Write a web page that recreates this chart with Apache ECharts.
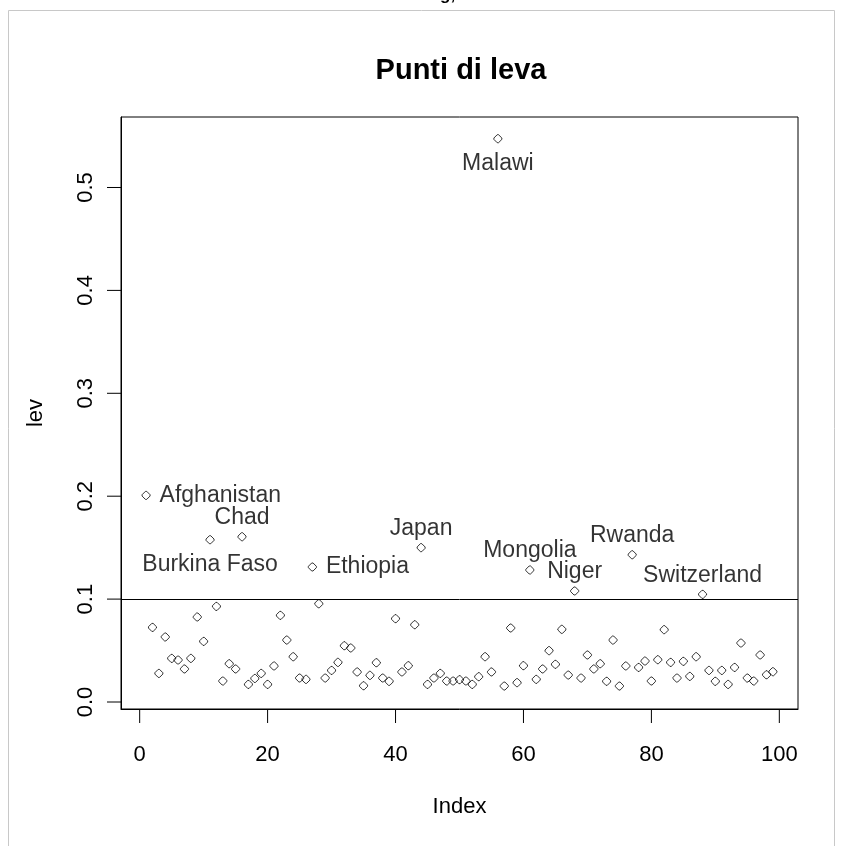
<!DOCTYPE html>
<html>
<head>
<meta charset="utf-8">
<script src="https://cdn.jsdelivr.net/npm/echarts@6/dist/echarts.min.js"></script>
<style>
  html, body { margin: 0; padding: 0; background: #fff; }
  #chart { width: 842px; height: 846px; }
</style>
</head>
<body>
<div id="chart"></div>
<script>
// Leverage (hat values) of each observation, in index order 1..99
const lev = [
  0.2008, 0.0725, 0.0278, 0.0632, 0.0424, 0.0408, 0.0321, 0.0424, 0.0826, 0.0589,
  0.1577, 0.0929, 0.0204, 0.0372, 0.0321, 0.1606, 0.0171, 0.0229, 0.0278, 0.0171,
  0.0350, 0.0842, 0.0602, 0.0440, 0.0233, 0.0220, 0.1312, 0.0955, 0.0233, 0.0307,
  0.0385, 0.0547, 0.0525, 0.0292, 0.0158, 0.0259, 0.0382, 0.0233, 0.0201, 0.0810,
  0.0292, 0.0353, 0.0751, 0.1500, 0.0171, 0.0233, 0.0278, 0.0204, 0.0204, 0.0217,
  0.0204, 0.0171, 0.0246, 0.0440, 0.0292, 0.5474, 0.0155, 0.0719, 0.0188, 0.0353,
  0.1283, 0.0220, 0.0321, 0.0499, 0.0366, 0.0706, 0.0262, 0.1079, 0.0233, 0.0457,
  0.0321, 0.0372, 0.0201, 0.0602, 0.0155, 0.0350, 0.1431, 0.0336, 0.0398, 0.0204,
  0.0411, 0.0703, 0.0385, 0.0233, 0.0395, 0.0249, 0.0440, 0.1046, 0.0307, 0.0201,
  0.0307, 0.0171, 0.0336, 0.0573, 0.0233, 0.0204, 0.0457, 0.0265, 0.0294
];

// Observations above the cutoff, labelled by country
const flaggedIndex = [1, 11, 16, 27, 44, 56, 61, 68, 77, 88];
const flaggedNames = ['Afghanistan', 'Burkina Faso', 'Chad', 'Ethiopia', 'Japan',
                      'Malawi', 'Mongolia', 'Niger', 'Rwanda', 'Switzerland'];

const cutoff = 0.1;
const xTicks = [0, 20, 40, 60, 80, 100];
const yTicks = [0, 0.1, 0.2, 0.3, 0.4, 0.5];

// where each country name sits relative to its point
const side = {
  'Afghanistan': 'right', 'Ethiopia': 'right',
  'Burkina Faso': 'bottom', 'Malawi': 'bottom'
};

const FONT = '"Liberation Sans", Arial, sans-serif';
const TICK_LEN = 14;

// axis ranges padded 4% beyond the data, as in base graphics
const xMin = -2.92, xMax = 102.92;
const yMin = -0.0068, yMax = 0.5685;

const points = lev.map((v, i) => {
  const item = { value: [i + 1, v] };
  const k = flaggedIndex.indexOf(i + 1);
  if (k >= 0) {
    const pos = side[flaggedNames[k]] || 'top';
    item.label = {
      show: true,
      formatter: flaggedNames[k],
      position: pos,
      distance: pos === 'right' ? 9 : (pos === 'bottom' ? 9 : 3)
    };
  }
  return item;
});

// outward tick marks, placed through the cartesian scales
function tickSeries(values, horizontal) {
  return {
    type: 'custom',
    silent: true,
    clip: false,
    z: 5,
    data: values.map(v => horizontal ? [v, yMin] : [xMin, v]),
    renderItem: (params, api) => {
      const p = api.coord([api.value(0), api.value(1)]);
      const shape = horizontal
        ? { x1: p[0], y1: p[1], x2: p[0], y2: p[1] + TICK_LEN }
        : { x1: p[0] - TICK_LEN, y1: p[1], x2: p[0], y2: p[1] };
      return {
        type: 'line',
        shape: shape,
        style: { stroke: '#000', lineWidth: 1 }
      };
    }
  };
}

const chart = echarts.init(document.getElementById('chart'), null, { renderer: 'canvas' });

chart.setOption({
  animation: false,
  backgroundColor: '#fff',
  title: {
    text: 'Punti di leva',
    left: 456,
    top: 51,
    textAlign: 'center',
    textStyle: { fontFamily: FONT, fontSize: 29, fontWeight: 'bold', color: '#000' }
  },
  graphic: [
    {
      type: 'rect',
      shape: { x: 8.5, y: 10.5, width: 826, height: 860 },
      style: { fill: 'none', stroke: '#c8c8c8', lineWidth: 1 },
      silent: true
    },
    {
      type: 'text',
      left: 440,
      top: -13,
      style: { text: 'g,', font: 'bold 17px ' + FONT, fill: '#000' },
      silent: true
    }
  ],
  grid: {
    left: 121, top: 117, width: 677, height: 592,
    show: true, borderColor: '#000', borderWidth: 1, backgroundColor: 'transparent'
  },
  xAxis: {
    type: 'value',
    min: xMin, max: xMax,
    name: 'Index',
    nameLocation: 'middle',
    nameGap: 87,
    nameTextStyle: { fontFamily: FONT, fontSize: 22, color: '#000' },
    axisLine: { show: true, onZero: false, lineStyle: { color: '#000', width: 1 } },
    splitLine: { show: false },
    axisTick: { show: false },
    axisLabel: {
      show: true, margin: 35,
      customValues: xTicks,
      fontFamily: FONT, fontSize: 22, color: '#000'
    }
  },
  yAxis: {
    type: 'value',
    min: yMin, max: yMax,
    name: 'lev',
    nameLocation: 'middle',
    nameGap: 74,
    nameRotate: 90,
    nameTextStyle: { fontFamily: FONT, fontSize: 22, color: '#000' },
    axisLine: { show: true, onZero: false, lineStyle: { color: '#000', width: 1 } },
    splitLine: { show: false },
    axisTick: { show: false },
    axisLabel: {
      show: true, margin: 24, rotate: 90,
      customValues: yTicks,
      formatter: v => v.toFixed(1),
      fontFamily: FONT, fontSize: 22, color: '#000'
    }
  },
  series: [
    {
      type: 'scatter',
      data: points,
      symbol: 'path://M2.5,0 L3.5,0 L6,2.5 L6,3.5 L3.5,6 L2.5,6 L0,3.5 L0,2.5 Z',
      symbolSize: 8,
      itemStyle: { color: 'rgba(0,0,0,0)', borderColor: '#000', borderWidth: 1 },
      label: { fontFamily: FONT, fontSize: 23, color: '#000' },
      emphasis: { disabled: true },
      markLine: {
        silent: true,
        symbol: 'none',
        label: { show: false },
        lineStyle: { color: '#000', width: 1, type: 'solid' },
        data: [{ yAxis: cutoff }]
      }
    },
    tickSeries(xTicks, true),
    tickSeries(yTicks, false)
  ]
});
</script>
</body>
</html>
